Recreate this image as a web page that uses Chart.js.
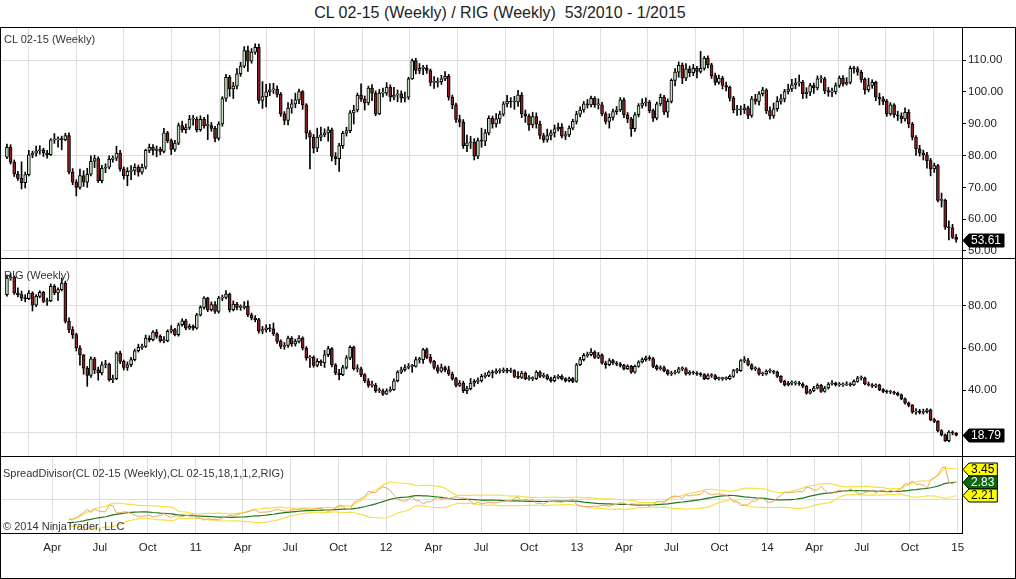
<!DOCTYPE html>
<html lang="en">
<head>
<meta charset="UTF-8">
<title>CL 02-15 / RIG weekly</title>
<script src="https://cdn.jsdelivr.net/npm/chart.js@4.4.1/dist/chart.umd.min.js"></script>
<style>
  body { margin: 0; background: #fff; font-family: "Liberation Sans", Arial, sans-serif; }
  #wrap { position: relative; width: 1016px; height: 579px; overflow: hidden; background: #fff; }
  canvas { position: absolute; left: 0; }
  .lbl { position: absolute; left: 4px; font-size: 11px; line-height: 13px; color: #333; white-space: pre; }
  .ln { position: absolute; background: #000; }
  #title { position: absolute; left: 0; top: 4px; width: 1000px; text-align: center; font-size: 16px; line-height: 18px; color: #222; white-space: pre; }
</style>
</head>
<body>
<div id="wrap">
  <div id="title">CL 02-15 (Weekly) / RIG (Weekly)  53/2010 - 1/2015</div>
  <canvas id="cl" style="top:28px" width="1016" height="230"></canvas>
  <canvas id="rig" style="top:259px" width="1016" height="197"></canvas>
  <canvas id="spread" style="top:457px" width="1016" height="121"></canvas>
  <div class="ln" style="left:0;top:27px;width:1016px;height:1px"></div>
  <div class="ln" style="left:0;top:258px;width:1016px;height:1px"></div>
  <div class="ln" style="left:0;top:456px;width:1016px;height:1px"></div>
  <div class="ln" style="left:0;top:578px;width:1016px;height:1px"></div>
  <div class="ln" style="left:0;top:27px;width:1px;height:552px"></div>
  <div class="ln" style="left:1015px;top:27px;width:1px;height:552px"></div>
  <div class="lbl" style="top:33px">CL 02-15 (Weekly)</div>
  <div class="lbl" style="top:269px">RIG (Weekly)</div>
  <div class="lbl" style="top:467px;left:3px">SpreadDivisor(CL 02-15 (Weekly),CL 02-15,18,1,1,2,RIG)</div>
  <div class="lbl" style="top:520px;left:3px">© 2014 NinjaTrader, LLC</div>
</div>
<script>
// weekly bars, first bar = week of 2010-01-04; open of each bar = previous close
const firstBarDate = '2010-01-04'
const clFirstOpen = 79.5
const rigFirstOpen = 85.2

const clClose = [
  82.6, 77.9, 74.2, 72.8, 71.5, 74, 80.2, 80.7, 81.5, 81.8,
  80.8, 80.3, 84.9, 84.9, 85.2, 85, 86.3, 74.8, 71.6, 70,
  73.7, 71.6, 74.1, 78.2, 79, 72.1, 76, 76.3, 78.8, 79.2,
  80.8, 75.8, 73.7, 75, 75.3, 76.3, 74.8, 76.3, 81.6, 82.6,
  81.6, 82, 81.3, 87.1, 84.7, 81.9, 83.9, 89.4, 88.1, 88.8,
  91.4, 91.4, 88.1, 91.4, 89.4, 89.4, 88.5, 85.4, 89.9, 97.9,
  104.6, 100.9, 101.8, 105.7, 108.1, 113, 109.6, 112.5, 114, 97.3,
  98.5, 100, 100.6, 100.9, 99.2, 93.1, 91, 94.9, 96.2, 97.5,
  100.1, 95.9, 87.1, 85.8, 82.3, 85.8, 86.5, 87.1, 88.1, 79.7,
  79, 83.1, 87, 87.8, 93.4, 94.3, 99, 97.8, 96.5, 101.2,
  99.6, 93.1, 99.6, 99.6, 101.5, 98.3, 99, 99.4, 98, 98.3,
  104.1, 109.8, 106.7, 107.4, 107.4, 106.7, 103, 103, 103.2, 104.1,
  104.9, 98.3, 95.9, 91.3, 90.5, 83.1, 84, 84.2, 79.8, 84.7,
  84.5, 87.1, 91.7, 89.9, 91.5, 93, 96.2, 97, 96.8, 96.8,
  99, 93.1, 92.4, 89.6, 92.2, 89.9, 86.3, 84.9, 86.3, 87.1,
  88.4, 88.9, 86.1, 86.5, 88.6, 90.7, 93, 94.3, 96.2, 95.9,
  98, 95.9, 95.9, 93.1, 90.7, 92, 93.8, 94.3, 97.5, 92.8,
  91.5, 88.4, 92.8, 95.7, 96.5, 96.8, 94.1, 91.7, 96.2, 98.3,
  93.6, 97, 103.6, 106.2, 108.3, 104.3, 107.2, 106, 107.4, 106.4,
  107.4, 110.6, 108.5, 105.1, 103, 104.3, 102, 101.5, 98, 94.3,
  94.3, 94.3, 95, 92.6, 97.8, 97, 99.4, 100.6, 94.1, 92.4,
  94.7, 97, 97.8, 100.1, 100.9, 102.2, 102.8, 103, 99.4, 99.9,
  102, 101.2, 104.1, 104.1, 100.4, 99.9, 100, 102, 104.3, 102.5,
  103, 107.4, 107.2, 106.2, 103.9, 100.7, 102, 103, 98.3, 97.8,
  97, 93.1, 95.9, 92.8, 92.4, 91.5, 93.6, 89.9, 85.8, 82.1,
  80.8, 80.2, 78.4, 75.8, 76.8, 65.9, 65.9, 57.5, 57.3, 54.3, 53.61
]
const clHigh = [
  83.6, 83.4, 78.6, 75.0, 78.0, 74.8, 81.6, 81.4, 83.0, 83.1,
  82.3, 81.6, 85.3, 86.9, 85.9, 86.1, 87.0, 87.1, 75.9, 72.4,
  75.7, 75.2, 76.0, 79.9, 80.1, 79.6, 76.9, 77.4, 79.9, 79.9,
  82.9, 81.6, 76.4, 76.2, 76.8, 77.4, 77.0, 77.3, 82.0, 83.6,
  83.4, 83.0, 82.6, 88.5, 87.6, 85.2, 84.8, 90.2, 90.8, 89.9,
  92.6, 92.6, 92.1, 92.5, 92.0, 92.8, 90.4, 89.2, 90.6, 98.5,
  105.5, 105.2, 103.0, 107.3, 109.3, 114.2, 114.4, 113.6, 115.1, 115.0,
  103.2, 102.4, 102.6, 102.7, 101.9, 99.8, 93.8, 96.6, 97.6, 99.6,
  100.9, 100.4, 96.3, 87.8, 86.6, 88.6, 88.9, 88.4, 89.0, 88.6,
  80.9, 83.8, 87.6, 88.9, 94.1, 95.8, 99.6, 102.5, 98.7, 101.8,
  102.3, 100.3, 100.8, 101.2, 102.9, 102.2, 101.4, 100.6, 100.3, 99.9,
  104.6, 110.3, 110.5, 108.9, 108.3, 108.4, 107.2, 104.8, 104.4, 105.2,
  106.4, 105.5, 99.0, 96.5, 92.7, 91.3, 86.4, 86.0, 85.3, 85.5,
  88.6, 88.2, 92.5, 92.4, 93.2, 93.9, 96.9, 98.9, 98.2, 98.6,
  100.5, 99.8, 94.3, 93.0, 93.6, 93.4, 90.8, 87.0, 88.3, 88.0,
  89.6, 90.2, 90.0, 87.6, 89.3, 91.4, 93.9, 95.3, 97.0, 97.6,
  98.7, 98.5, 97.8, 96.7, 93.7, 93.1, 94.6, 95.4, 98.2, 98.1,
  93.5, 92.0, 93.5, 96.3, 97.8, 98.1, 97.3, 94.6, 96.8, 99.3,
  98.9, 97.8, 104.1, 107.3, 109.4, 109.1, 108.9, 108.1, 108.6, 108.0,
  112.7, 111.1, 111.3, 109.0, 105.9, 105.3, 104.9, 103.1, 101.8, 98.6,
  95.8, 95.6, 96.1, 95.5, 98.6, 99.2, 100.1, 101.4, 101.0, 95.3,
  96.5, 98.5, 99.2, 100.8, 102.4, 103.9, 104.2, 105.3, 103.6, 101.3,
  102.7, 102.8, 105.0, 105.1, 104.6, 101.4, 101.2, 102.8, 105.0, 105.1,
  104.5, 108.1, 108.0, 107.9, 106.8, 104.4, 104.3, 103.8, 103.4, 99.6,
  98.5, 97.6, 96.6, 96.3, 93.9, 93.4, 95.0, 94.4, 90.4, 86.3,
  83.2, 81.7, 81.0, 79.1, 77.6, 77.2, 68.2, 66.3, 59.5, 58.4, 55.2
]
const clLow = [
  79.0, 77.3, 73.4, 72.2, 69.5, 69.8, 73.6, 79.3, 79.8, 80.4,
  79.7, 79.2, 80.0, 83.8, 82.6, 81.8, 84.6, 74.2, 70.8, 67.3,
  69.4, 70.3, 70.0, 73.6, 76.2, 71.5, 71.4, 74.6, 75.8, 77.9,
  78.4, 75.1, 72.6, 70.5, 72.4, 73.9, 73.5, 74.1, 75.8, 80.9,
  80.2, 79.6, 80.2, 80.8, 84.0, 80.3, 81.3, 83.4, 87.3, 87.0,
  88.2, 89.5, 87.4, 87.6, 88.6, 85.0, 87.6, 84.3, 84.8, 89.2,
  97.0, 98.6, 97.9, 100.9, 104.9, 107.6, 106.4, 109.0, 111.8, 96.4,
  94.8, 95.3, 98.8, 99.5, 98.3, 92.3, 89.7, 89.6, 93.3, 95.0,
  96.3, 94.5, 85.2, 75.8, 80.8, 81.2, 84.6, 85.9, 84.5, 78.3,
  77.1, 75.0, 82.2, 86.1, 87.2, 89.9, 93.7, 97.0, 94.3, 95.9,
  97.2, 92.5, 92.8, 98.4, 98.9, 97.0, 97.5, 96.9, 96.7, 96.8,
  97.6, 103.9, 105.6, 105.7, 105.4, 105.8, 101.9, 101.1, 101.5, 102.3,
  103.5, 97.4, 94.7, 90.4, 89.0, 82.2, 81.2, 82.2, 78.6, 79.0,
  82.6, 83.1, 86.5, 88.6, 88.9, 90.1, 92.4, 95.3, 95.1, 94.5,
  95.4, 91.9, 90.4, 87.9, 88.7, 88.6, 85.2, 84.1, 84.2, 84.9,
  85.8, 87.7, 85.5, 85.0, 85.9, 88.1, 89.9, 92.1, 93.6, 94.9,
  95.3, 95.1, 94.6, 92.4, 89.9, 88.6, 91.1, 92.9, 93.8, 91.9,
  90.3, 86.0, 87.6, 92.1, 94.9, 95.5, 93.4, 90.7, 91.2, 95.6,
  92.8, 92.0, 96.5, 101.9, 104.6, 102.6, 103.5, 104.8, 105.1, 104.4,
  105.9, 106.8, 107.5, 104.2, 102.1, 102.4, 100.9, 100.3, 97.1, 93.4,
  92.6, 92.8, 93.2, 91.6, 92.0, 96.1, 95.8, 98.7, 93.2, 91.4,
  91.7, 93.9, 96.1, 96.8, 99.3, 100.1, 101.0, 101.8, 97.9, 98.0,
  98.8, 99.5, 100.6, 102.9, 99.4, 98.6, 98.5, 99.3, 101.4, 101.8,
  102.1, 102.5, 105.9, 105.2, 103.0, 99.3, 100.0, 101.1, 97.2, 95.9,
  96.0, 92.3, 92.6, 92.0, 91.0, 90.2, 90.8, 88.7, 84.9, 80.0,
  79.8, 78.6, 76.0, 73.6, 74.7, 65.4, 63.8, 56.8, 53.5, 53.9, 52.8
]

const rigClose = [
  93.1, 93.5, 86, 85.2, 83.6, 83.3, 86, 80.2, 84.4, 86.3,
  82, 82.4, 89.1, 86, 87.6, 90.7, 72.6, 68.7, 66.3, 60,
  56.8, 50.5, 47, 54.9, 49.7, 48.2, 52.1, 52.4, 45, 45.5,
  57.6, 53.7, 50.8, 52.1, 54.5, 58.7, 60.3, 60.8, 64.7, 63.9,
  67.5, 65.5, 63.5, 63.5, 67.9, 68.7, 66.3, 71, 72.9, 69.4,
  70.2, 69.4, 75.7, 79.2, 83.6, 78.1, 80.5, 77.3, 83.6, 83.9,
  85.5, 78.1, 80.8, 79.2, 79.2, 79.7, 75.7, 74.2, 73.4, 67.9,
  68.7, 69.4, 69.1, 66.6, 63.1, 60.8, 61.2, 64.7, 61.9, 63.1,
  64.7, 60, 55.3, 55.6, 51.8, 53.7, 53, 56.8, 59.7, 52.1,
  48.2, 47.4, 50.8, 55.3, 60.3, 50.2, 50.2, 47.4, 44.5, 42.3,
  42.3, 39.8, 39.8, 38.2, 39.8, 40.3, 44.5, 48.6, 49.7, 50.8,
  51.3, 51.3, 54.5, 54.5, 59.2, 55.6, 53.7, 50.8, 49, 50.8,
  49.7, 47.7, 45.5, 42.3, 43.4, 39.8, 40.8, 43.4, 44.2, 44.5,
  46.6, 47, 48.6, 48.2, 49, 49, 49.7, 49, 49.3, 46.6,
  46.1, 48.2, 45.5, 45.5, 45.5, 48.6, 46.6, 47, 45.5, 44.5,
  46.1, 46.6, 45.5, 44.5, 45.5, 44.2, 52.1, 54.5, 56.5, 56.8,
  58.1, 55.6, 56.8, 52.9, 52.1, 54, 52.9, 52.4, 51.8, 50.2,
  51.3, 48.6, 51.3, 53.4, 54.5, 55.3, 55, 51.3, 50.2, 50.8,
  49.3, 47.7, 48.2, 48.6, 50.2, 50.2, 47.7, 48.6, 48.2, 47.7,
  47.4, 45.5, 47, 47, 45.5, 45.5, 45.5, 45.5, 46.6, 49.3,
  49.3, 54, 54, 52.1, 50.2, 50.2, 47.7, 47.7, 49, 49,
  48.6, 46.6, 44.2, 42.6, 43.4, 43.4, 43.4, 43, 41.9, 38.7,
  39.8, 41.1, 42.3, 39.5, 41.1, 43, 43.4, 42.6, 42.6, 42.6,
  43, 42.6, 44.2, 45.8, 45.8, 43, 42.6, 41.9, 42.6, 40.3,
  39.5, 39.2, 39.2, 38.7, 37.9, 36, 34, 32.9, 29.7, 30.2,
  29.5, 29.9, 30.8, 26.1, 25.3, 20.9, 19, 16.2, 20.3, 19.8, 18.79
]
const rigHigh = [
  94.5, 95.2, 94.0, 88.5, 86.9, 85.2, 87.2, 86.6, 85.3, 87.1,
  86.8, 83.6, 90.3, 90.0, 88.4, 93.1, 91.6, 74.3, 70.1, 67.0,
  61.2, 56.9, 51.3, 55.8, 55.6, 51.0, 53.5, 54.2, 52.9, 47.2,
  58.2, 58.6, 54.3, 53.4, 55.6, 59.5, 61.8, 61.9, 66.1, 65.8,
  68.2, 68.7, 66.2, 65.4, 68.6, 70.6, 69.3, 71.8, 73.8, 73.6,
  71.3, 70.9, 76.4, 80.0, 84.3, 84.0, 81.8, 82.0, 84.4, 85.0,
  87.2, 86.0, 82.3, 81.6, 80.4, 81.9, 82.3, 76.5, 75.3, 74.0,
  70.2, 70.9, 71.2, 71.8, 67.2, 63.9, 62.6, 65.6, 65.4, 64.2,
  65.9, 65.3, 60.7, 56.4, 56.3, 55.0, 54.4, 58.9, 60.8, 60.2,
  52.6, 49.9, 51.8, 56.4, 61.0, 60.9, 52.1, 51.0, 47.9, 45.6,
  44.4, 43.3, 41.1, 40.6, 40.7, 41.6, 45.4, 49.3, 51.0, 52.1,
  52.6, 52.3, 55.7, 55.6, 59.9, 60.0, 57.0, 54.2, 51.9, 52.4,
  51.5, 51.4, 48.6, 46.1, 44.6, 44.3, 41.9, 45.6, 45.1, 45.9,
  47.6, 48.2, 49.2, 49.5, 50.1, 50.2, 50.6, 50.4, 50.5, 49.8,
  48.9, 49.0, 48.7, 47.0, 46.4, 49.3, 49.2, 48.1, 47.6, 46.2,
  47.0, 47.4, 47.3, 46.0, 46.3, 46.1, 52.7, 55.6, 57.5, 58.1,
  59.7, 58.7, 57.9, 57.3, 53.8, 55.0, 54.6, 53.6, 53.2, 52.3,
  52.1, 51.8, 51.9, 54.0, 55.3, 56.2, 56.3, 55.6, 52.0, 51.6,
  51.4, 49.8, 49.0, 49.4, 50.9, 51.1, 50.7, 49.3, 49.1, 48.8,
  48.4, 47.9, 47.8, 47.9, 47.5, 46.3, 46.2, 46.4, 47.3, 49.9,
  50.4, 54.6, 55.9, 55.1, 52.6, 51.1, 50.6, 48.6, 49.7, 50.1,
  49.5, 49.1, 47.0, 44.8, 44.3, 44.5, 44.4, 44.2, 43.6, 42.3,
  40.5, 41.9, 43.1, 42.8, 41.9, 43.7, 44.6, 43.9, 43.7, 43.5,
  44.1, 43.6, 44.9, 46.6, 46.8, 46.2, 43.9, 43.2, 43.1, 42.9,
  40.8, 40.1, 40.0, 39.6, 39.2, 38.3, 36.4, 34.5, 33.3, 31.4,
  31.0, 31.1, 31.4, 31.2, 26.8, 25.7, 21.4, 19.4, 20.9, 20.8, 20.0
]
const rigLow = [
  84.5, 92.0, 85.3, 84.1, 82.4, 81.8, 82.9, 77.5, 79.6, 83.8,
  81.4, 80.1, 81.9, 85.2, 82.5, 87.0, 71.8, 67.2, 64.5, 58.6,
  51.9, 47.6, 41.9, 46.1, 47.9, 44.8, 47.3, 50.6, 44.3, 43.6,
  45.0, 52.6, 49.6, 49.4, 51.2, 53.9, 58.1, 59.3, 60.2, 62.9,
  63.3, 64.6, 62.7, 62.4, 62.9, 67.1, 65.7, 65.6, 70.3, 68.6,
  68.8, 68.4, 68.9, 75.1, 78.4, 77.2, 77.4, 76.4, 76.5, 82.3,
  83.2, 77.0, 77.5, 78.0, 77.8, 78.4, 74.8, 73.3, 72.4, 67.0,
  66.8, 67.5, 67.8, 65.9, 62.2, 59.7, 59.4, 60.3, 60.8, 60.9,
  62.4, 59.1, 54.2, 50.8, 50.9, 51.1, 51.6, 50.8, 55.9, 51.0,
  47.4, 44.9, 46.9, 50.1, 54.5, 49.5, 48.7, 46.5, 43.6, 41.4,
  41.5, 39.0, 38.9, 37.6, 38.0, 39.2, 40.0, 44.0, 47.9, 49.0,
  50.1, 48.5, 50.9, 52.9, 52.7, 54.9, 52.8, 50.0, 48.1, 48.5,
  48.7, 47.0, 44.8, 41.6, 41.8, 38.9, 38.4, 40.2, 41.8, 43.1,
  43.9, 45.8, 46.4, 45.9, 47.8, 48.1, 48.3, 48.2, 48.4, 46.0,
  45.5, 45.6, 45.0, 44.8, 44.6, 45.1, 46.0, 45.9, 44.9, 43.8,
  44.0, 45.4, 44.9, 43.9, 44.0, 43.6, 43.8, 51.6, 53.9, 55.7,
  56.2, 55.0, 55.0, 52.3, 50.4, 51.6, 52.2, 51.6, 51.0, 49.6,
  49.8, 48.0, 48.1, 50.9, 52.9, 53.8, 54.1, 50.7, 49.5, 49.6,
  48.7, 47.1, 47.0, 47.6, 48.1, 49.2, 47.1, 47.2, 47.5, 47.0,
  46.6, 45.0, 45.1, 46.1, 44.9, 44.8, 44.7, 44.9, 45.0, 46.1,
  48.2, 48.9, 53.1, 51.5, 49.6, 49.3, 47.1, 46.9, 47.2, 48.2,
  47.8, 46.0, 43.6, 42.0, 42.1, 42.6, 42.5, 42.3, 41.2, 38.1,
  38.3, 39.4, 40.6, 39.0, 39.1, 40.6, 42.4, 42.0, 41.9, 41.8,
  42.2, 41.9, 42.2, 43.8, 44.9, 42.5, 42.0, 41.3, 41.2, 39.8,
  38.9, 38.6, 38.4, 38.0, 37.3, 35.5, 33.5, 32.2, 29.1, 28.6,
  28.8, 28.7, 29.2, 25.6, 24.7, 20.3, 18.4, 15.8, 15.6, 18.9, 18.4
]

const tickLabels = ['Apr', 'Jul', 'Oct', '11', 'Apr', 'Jul', 'Oct', '12', 'Apr', 'Jul',
  'Oct', '13', 'Apr', 'Jul', 'Oct', '14', 'Apr', 'Jul', 'Oct', '15']
const tickDates = ['2010-04-01', '2010-07-01', '2010-10-01', '2011-01-01', '2011-04-01',
  '2011-07-01', '2011-10-01', '2012-01-01', '2012-04-01', '2012-07-01', '2012-10-01',
  '2013-01-01', '2013-04-01', '2013-07-01', '2013-10-01', '2014-01-01', '2014-04-01',
  '2014-07-01', '2014-10-01', '2015-01-01']

const clTicks = [50, 60, 70, 80, 90, 100, 110]
const clGrid = [50, 80, 110]
const rigTicks = [20, 40, 60, 80]
const rigGrid = [20, 80]
const spreadGrid = [2]
const spreadPeriod = 18

// ---------- helpers ----------
const FONT = '"Liberation Sans", Arial, sans-serif'
const GRID = '#dedede'
const UP = '#c3e3bd'
const DOWN = '#8b1d1d'
const weekPos = d => (Date.parse(d) - Date.parse(firstBarDate)) / (7 * 864e5)
const tickPos = tickDates.map(weekPos)

const candleSets = (close, high, low, firstOpen) => {
  const open = close.map((c, i) => i ? close[i - 1] : firstOpen)
  return [
    {
      type: 'bar',
      data: close.map((c, i) => ({ x: i, y: [open[i], c] })),
      backgroundColor: close.map((c, i) => c >= open[i] ? UP : DOWN),
      borderColor: '#000',
      borderWidth: 1,
      borderSkipped: false,
      barThickness: 3,
      minBarLength: 1,
      grouped: false,
      order: 0
    },
    {
      type: 'bar',
      data: close.map((c, i) => ({ x: i, y: [low[i], high[i]] })),
      backgroundColor: '#000',
      borderWidth: 0,
      barThickness: 1,
      grouped: false,
      order: 1
    }
  ]
}

const tagPlugin = {
  id: 'tags',
  afterDraw(chart, args, opts) {
    const ctx = chart.ctx
    const ys = chart.scales.y
    const left = chart.chartArea.right + 1
    ctx.save()
    ctx.font = '12px ' + FONT
    ctx.lineWidth = 1
    ;(opts.items || []).forEach(t => {
      const py = Math.round(ys.getPixelForValue(t.value)) + 0.5
      const w = ctx.measureText(t.text).width + 5
      const h = 13
      ctx.beginPath()
      ctx.moveTo(left, py)
      ctx.lineTo(left + 6, py - h / 2)
      ctx.lineTo(left + 6 + w, py - h / 2)
      ctx.lineTo(left + 6 + w, py + h / 2)
      ctx.lineTo(left + 6, py + h / 2)
      ctx.closePath()
      ctx.fillStyle = t.bg
      ctx.fill()
      ctx.strokeStyle = '#000'
      ctx.stroke()
      ctx.fillStyle = t.fg
      ctx.textBaseline = 'middle'
      ctx.fillText(t.text, left + 8, py + 0.5)
    })
    ctx.restore()
  }
}

const xScale = (showLabels) => ({
  type: 'linear',
  min: -1.9,
  max: 261.6,
  offset: false,
  afterBuildTicks: s => { s.ticks = tickPos.map(v => ({ value: v })) },
  grid: { color: GRID, drawTicks: false },
  border: { display: showLabels, color: '#000' },
  ticks: {
    display: showLabels,
    autoSkip: false,
    maxRotation: 0,
    padding: 8,
    color: '#222',
    font: { family: FONT, size: 11.5 },
    callback: (v, i) => tickLabels[i]
  },
  afterFit: s => {
    s.height = showLabels ? 45 : 0
    s.paddingLeft = 0
    s.paddingRight = 0
  }
})

const yScale = (min, max, ticks, grid, labelled) => ({
  position: 'right',
  min,
  max,
  afterBuildTicks: s => { s.ticks = ticks.map(v => ({ value: v })) },
  grid: {
    color: c => grid.includes(c.tick.value) ? GRID : 'rgba(0,0,0,0)',
    tickColor: c => labelled.includes(c.tick.value) ? '#000' : 'rgba(0,0,0,0)',
    tickLength: 4,
    drawTicks: labelled.length > 0
  },
  border: { display: true, color: '#000' },
  ticks: {
    display: labelled.length > 0,
    padding: 2,
    color: '#222',
    font: { family: FONT, size: 11.5 },
    callback: v => labelled.includes(v) ? v.toFixed(2) : ''
  },
  afterFit: s => {
    s.width = 54
    s.paddingTop = 0
    s.paddingBottom = 0
  }
})

const baseOptions = (scales, tags) => ({
  responsive: false,
  animation: false,
  layout: { padding: 0 },
  scales,
  plugins: { legend: { display: false }, tooltip: { enabled: false }, tags: { items: tags } }
})

// ---------- CL panel ----------
new Chart(document.getElementById('cl'), {
  type: 'bar',
  data: { datasets: candleSets(clClose, clHigh, clLow, clFirstOpen) },
  options: baseOptions(
    { x: xScale(false), y: yScale(47.8, 120.06, clTicks, clGrid, clTicks) },
    [{ value: clClose[clClose.length - 1], text: clClose[clClose.length - 1].toFixed(2), bg: '#000', fg: '#fff' }]
  ),
  plugins: [tagPlugin]
})

// ---------- RIG panel (20.00 label sits under the price tag) ----------
new Chart(document.getElementById('rig'), {
  type: 'bar',
  data: { datasets: candleSets(rigClose, rigHigh, rigLow, rigFirstOpen) },
  options: baseOptions(
    { x: xScale(false), y: yScale(8.94, 102.08, rigTicks, rigGrid, [40, 60, 80]) },
    [{ value: rigClose[rigClose.length - 1], text: rigClose[rigClose.length - 1].toFixed(2), bg: '#000', fg: '#fff' }]
  ),
  plugins: [tagPlugin]
})

// ---------- spread panel: CL / RIG with 18-bar average and 2-sigma bands ----------
const ratio = clClose.map((c, i) => c / rigClose[i])
const mid = [], upper = [], lower = [], spread = []
for (let i = spreadPeriod - 1; i < ratio.length; i++) {
  const win = ratio.slice(i - spreadPeriod + 1, i + 1)
  const m = win.reduce((a, b) => a + b, 0) / spreadPeriod
  const sd = Math.sqrt(win.reduce((a, b) => a + (b - m) * (b - m), 0) / (spreadPeriod - 1))
  mid.push({ x: i, y: m })
  upper.push({ x: i, y: m + 2 * sd })
  lower.push({ x: i, y: m - 2 * sd })
  spread.push({ x: i, y: ratio[i] })
}
const last = a => a[a.length - 1].y
const fmt = v => String(+v.toFixed(2))
const lineSet = (data, color, width, order) => ({
  type: 'line', data, borderColor: color, borderWidth: width, pointRadius: 0, tension: 0, order
})

new Chart(document.getElementById('spread'), {
  type: 'line',
  data: {
    datasets: [
      lineSet(spread, '#eaa55a', 1, 0),
      lineSet(mid, '#1f7a1f', 1.2, 1),
      lineSet(upper, '#f8e04a', 1.2, 2),
      lineSet(lower, '#f8e04a', 1.2, 3)
    ]
  },
  options: baseOptions(
    { x: xScale(true), y: yScale(0.472, 3.99, spreadGrid, spreadGrid, []) },
    [
      { value: last(upper), text: fmt(last(upper)), bg: '#ffff00', fg: '#000' },
      { value: last(mid), text: fmt(last(mid)), bg: '#0b6b0b', fg: '#fff' },
      { value: last(lower), text: fmt(last(lower)), bg: '#ffff00', fg: '#000' }
    ]
  ),
  plugins: [tagPlugin]
})
</script>
</body>
</html>
